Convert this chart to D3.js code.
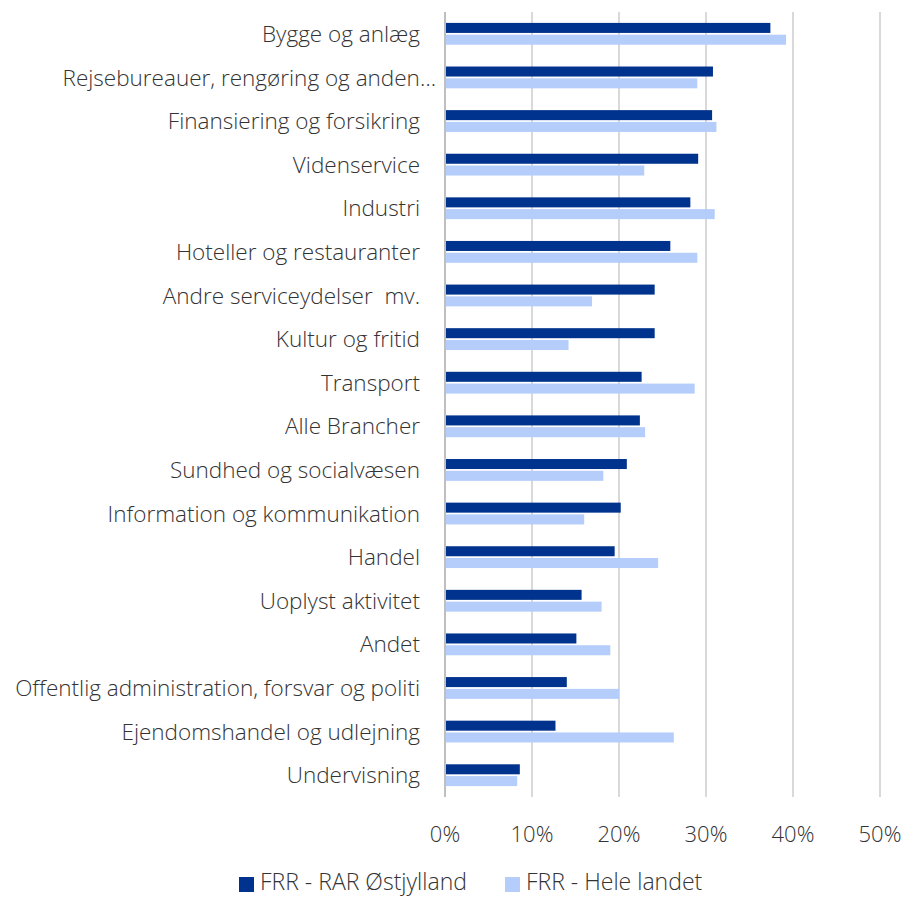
<!DOCTYPE html>
<html><head><meta charset="utf-8">
<script src="https://cdn.jsdelivr.net/npm/d3@7"></script>
<style>body{margin:0;background:#fff}svg{display:block}text{font-family:"Open Sans","Segoe UI",sans-serif;font-weight:300;fill:#333;white-space:pre}</style>
</head><body><svg id="c" width="903" height="899"></svg>
<script>
const categories = ["Bygge og anlæg","Rejsebureauer, rengøring og anden…","Finansiering og forsikring","Videnservice","Industri","Hoteller og restauranter","Andre serviceydelser  mv.","Kultur og fritid","Transport","Alle Brancher","Sundhed og socialvæsen","Information og kommunikation","Handel","Uoplyst aktivitet","Andet","Offentlig administration, forsvar og politi","Ejendomshandel og udlejning","Undervisning"];
const seriesNames = ["FRR - RAR Østjylland","FRR - Hele landet"];
const ostjylland = [37.4,30.8,30.7,29.1,28.2,25.9,24.1,24.1,22.6,22.4,20.9,20.2,19.5,15.7,15.1,14.0,12.7,8.6];
const heleLandet = [39.2,29.0,31.2,22.9,31.0,29.0,16.9,14.2,28.7,23.0,18.2,16.0,24.5,18.0,19.0,20.0,26.3,8.3];
const xTicks = [0,10,20,30,40,50];
const colors = ["#00338d","#b4cdfb"];

const svg = d3.select("#c");
const x = d3.scaleLinear().domain([0,50]).range([445,880]);
const y = d3.scaleBand().domain(categories).range([12,797]).paddingInner(0.5).paddingOuter(0.25);
const ys = d3.scaleBand().domain(seriesNames).range([0,y.bandwidth()]).paddingInner(0.15);

svg.append("g").selectAll("line").data(xTicks.slice(1)).join("line")
  .attr("x1",d=>x(d)).attr("x2",d=>x(d)).attr("y1",12).attr("y2",797)
  .attr("stroke","#d9d9d9").attr("stroke-width",2);

const rows = categories.map((c,i)=>({c, vals:[ostjylland[i],heleLandet[i]]}));
const g = svg.append("g");
rows.forEach(r=>{
  r.vals.forEach((v,j)=>{
    g.append("rect").attr("x",x(0)).attr("y",y(r.c)+ys(seriesNames[j]))
      .attr("width",x(v)-x(0)).attr("height",ys.bandwidth()).attr("fill",colors[j]);
  });
});

svg.append("line").attr("x1",x(0)).attr("x2",x(0)).attr("y1",12).attr("y2",797)
  .attr("stroke","#bfbfbf").attr("stroke-width",2);

svg.append("g").selectAll("text").data(categories).join("text")
  .attr("x",d=>d.endsWith("…")?436:420).attr("y",d=>y(d)+y.bandwidth()/2).attr("dy","0.36em")
  .attr("text-anchor","end").attr("font-size",22.5).text(d=>d);

svg.append("g").selectAll("text").data(xTicks).join("text")
  .attr("x",d=>x(d)).attr("y",842).attr("text-anchor","middle").attr("font-size",22)
  .text(d=>d3.format(".0%")(d/100));

const lx=[239,505];
seriesNames.forEach((s,j)=>{
  svg.append("rect").attr("x",lx[j]).attr("y",877).attr("width",15).attr("height",15).attr("fill",colors[j]);
  svg.append("text").attr("x",lx[j]+21).attr("y",890).attr("font-size",23).text(s);
});
</script></body></html>
